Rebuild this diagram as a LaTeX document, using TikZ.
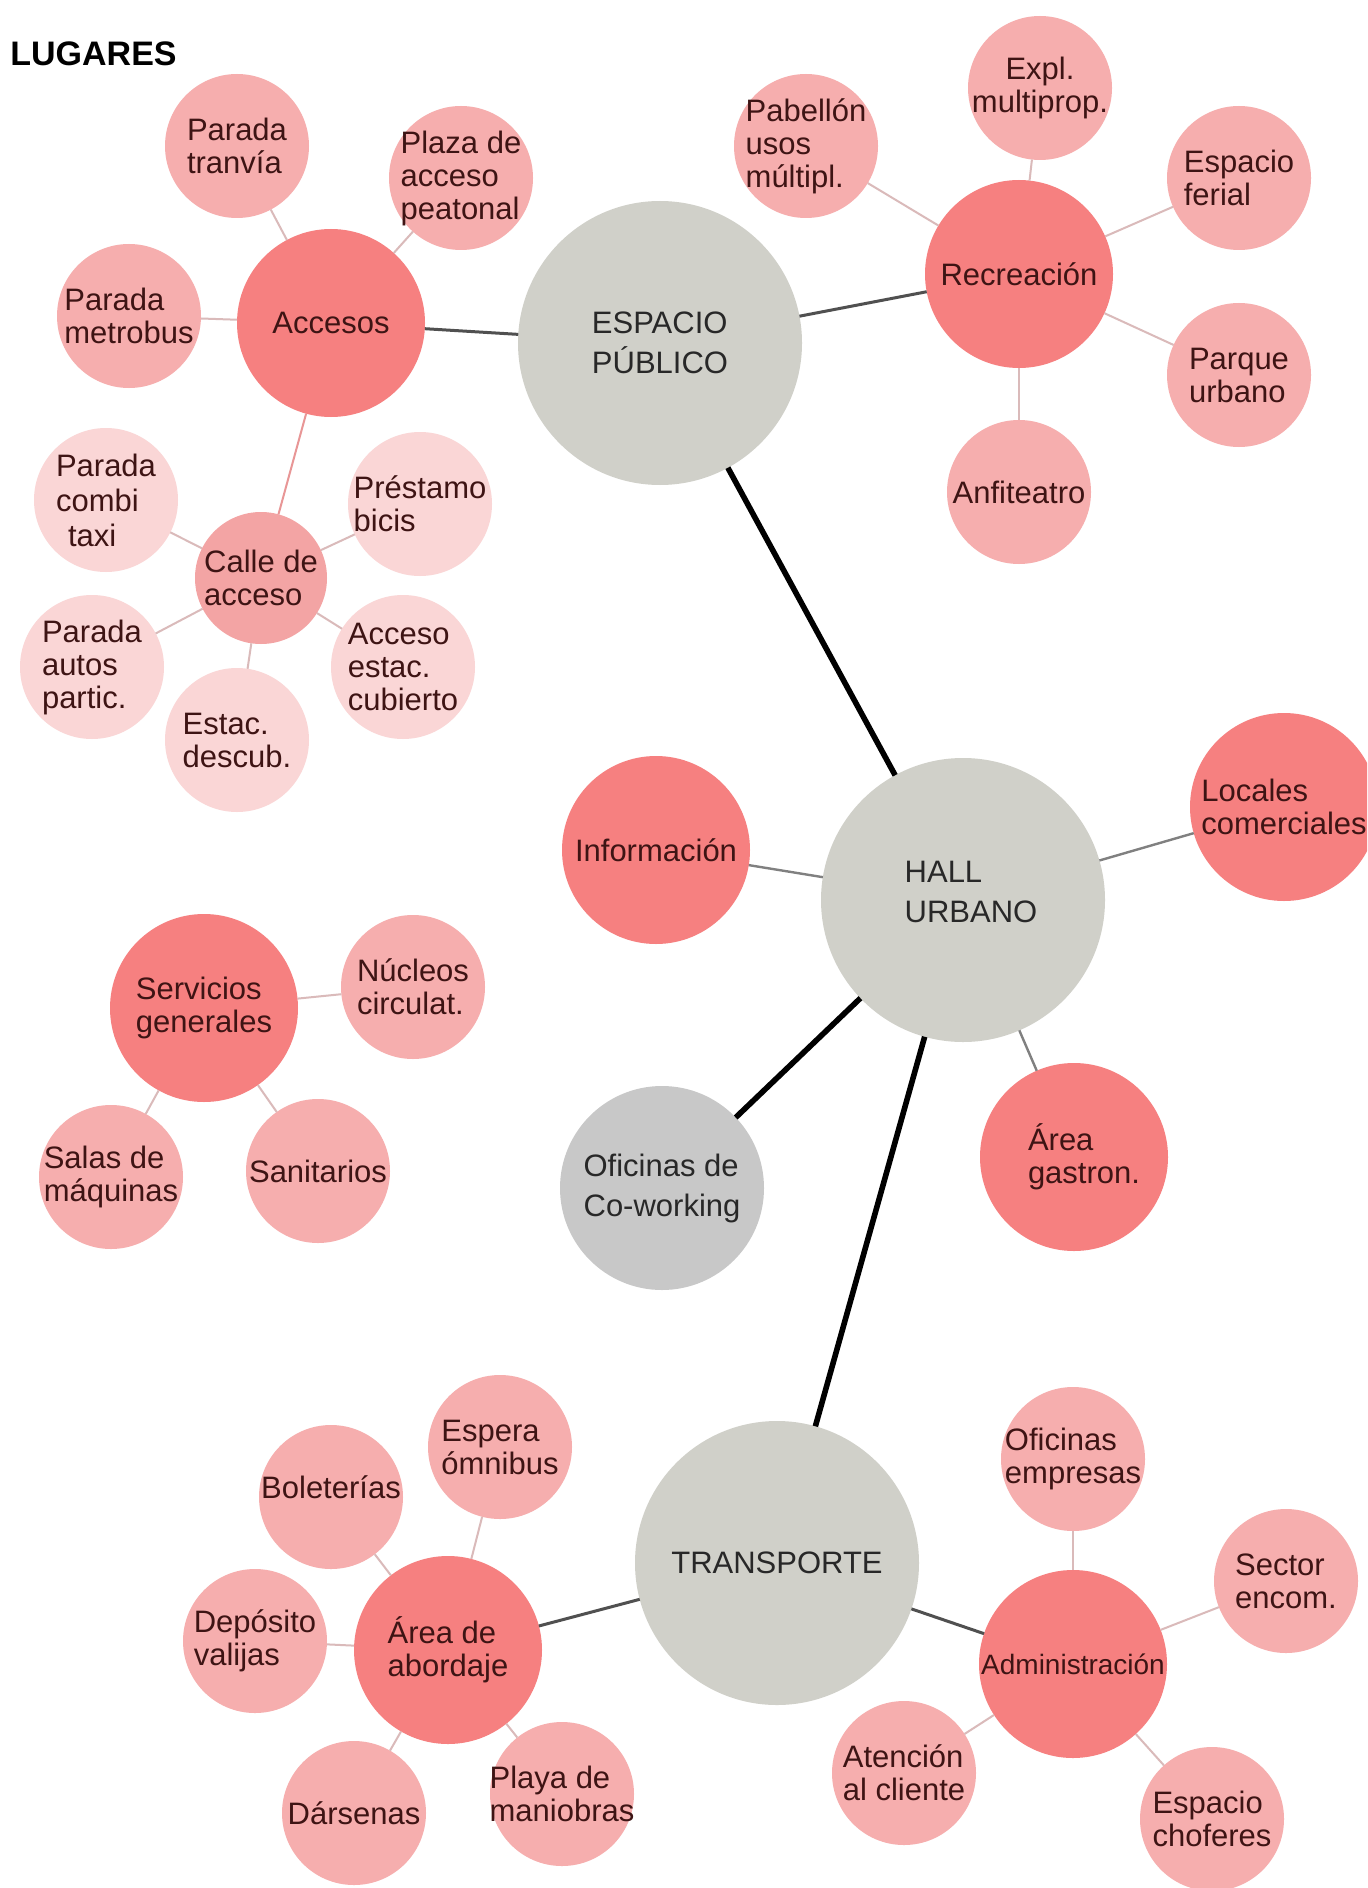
\documentclass[tikz,border=0pt]{standalone}
\usepackage{fontspec}
\setmainfont{Liberation Sans}
\definecolor{cmain}{RGB}{208,208,201}
\definecolor{ccw}{RGB}{200,200,200}
\definecolor{cstrong}{RGB}{246,128,128}
\definecolor{cleaf}{RGB}{246,174,174}
\definecolor{ccalle}{RGB}{243,164,164}
\definecolor{clight}{RGB}{250,214,214}
\definecolor{ctext}{RGB}{62,20,20}
\definecolor{ctextg}{RGB}{40,40,40}
\definecolor{cspoke}{RGB}{218,186,186}
\definecolor{cdark}{RGB}{80,80,80}
\definecolor{cmid}{RGB}{128,128,128}
\definecolor{cpink}{RGB}{232,150,150}
\begin{document}
\begin{tikzpicture}[x=0.5pt,y=-0.5pt,
  bub/.style={circle, inner sep=0pt, outer sep=0pt, draw=none},
  mainb/.style={bub, fill=cmain, minimum size=142pt},
  cwb/.style={bub, fill=ccw, minimum size=102pt},
  strong/.style={bub, fill=cstrong, minimum size=94pt},
  leaf/.style={bub, fill=cleaf, minimum size=72pt},
  calleb/.style={bub, fill=ccalle, minimum size=66pt},
  lightb/.style={bub, fill=clight, minimum size=72pt},
  lbl/.style={align=left, text=ctext, inner sep=0pt, font=\fontsize{15.5}{16.5}\selectfont},
  lblg/.style={lbl, text=ctextg, font=\fontsize{15.5}{20}\selectfont},
  t/.style={label={[lbl]center:{#1}}},
  tg/.style={label={[lblg]center:{#1}}},
  thick line/.style={line width=2.8pt, black},
  dark line/.style={line width=1.5pt, cdark},
  mid line/.style={line width=1.2pt, cmid},
  spoke/.style={line width=1pt, cspoke},
  pspoke/.style={line width=1pt, cpink}
]
\path[use as bounding box] (0,0) rectangle (1367,1888);
\clip (0,0) rectangle (1367,1888);
\fill[white] (0,0) rectangle (1367,1888);

\node[anchor=west, inner sep=0pt, font=\bfseries\fontsize{17}{17}\selectfont] (title) at (10,54) {LUGARES};

% Espacio publico cluster
\node[mainb, tg={ESPACIO\\PÚBLICO}] (esp) at (660,343) {};
\node[strong, t={Accesos}] (acc) at (331,323) {};
\node[leaf, t={Parada\\tranvía}] (ptran) at (237,146) {};
\node[leaf, t={Plaza de\\acceso\\peatonal}] (plaza) at (461,178) {};
\node[leaf, t={Parada\\metrobus}] (pmetro) at (129,316) {};
\node[calleb, t={Calle de\\acceso}] (calle) at (261,578) {};
\node[lightb, label={[lbl, font=\fontsize{15.5}{17.5}\selectfont]center:{Parada\\combi\\\hspace*{6pt}taxi}}] (pcombi) at (106,500) {};
\node[lightb, t={Préstamo\\bicis}] (prest) at (420,504) {};
\node[lightb, t={Parada\\autos\\partic.}] (pautos) at (92,667) {};
\node[lightb, t={Estac.\\descub.}] (estdes) at (237,740) {};
\node[lightb, t={Acceso\\estac.\\cubierto}] (accest) at (403,667) {};
\node[strong, t={Recreación}] (rec) at (1019,274) {};
\node[leaf, t={Pabellón\\usos\\múltipl.}] (pab) at (806,146) {};
\node[leaf, label={[lbl, align=center]center:{Expl.\\multiprop.}}] (expl) at (1040,88) {};
\node[leaf, t={Espacio\\ferial}] (ferial) at (1239,178) {};
\node[leaf, t={Parque\\urbano}] (parque) at (1239,375) {};
\node[leaf, t={Anfiteatro}] (anfi) at (1019,492) {};

% Hall urbano cluster
\node[mainb, label={[lblg, xshift=4pt, yshift=4pt]center:{HALL\\URBANO}}] (hall) at (963,900) {};
\node[strong, t={Información}] (info) at (656,850) {};
\node[strong, t={Locales\\comerciales}] (locales) at (1284,807) {};
\node[strong, label={[lbl, xshift=5pt]center:{Área\\gastron.}}] (gastro) at (1074,1157) {};
\node[cwb, tg={Oficinas de\\Co-working}] (cowork) at (662,1188) {};

% Servicios generales cluster
\node[strong, t={Servicios\\generales}] (serv) at (204,1008) {};
\node[leaf, t={Núcleos\\circulat.}] (nucleos) at (413,987) {};
\node[leaf, t={Salas de\\máquinas}] (salas) at (111,1177) {};
\node[leaf, t={Sanitarios}] (sanit) at (318,1171) {};

% Transporte cluster
\node[mainb, tg={TRANSPORTE}] (trans) at (777,1563) {};
\node[strong, t={Área de\\abordaje}] (abord) at (448,1650) {};
\node[leaf, label={[lbl, yshift=5pt]center:{Boleterías}}] (bolet) at (331,1497) {};
\node[leaf, t={Espera\\ómnibus}] (espera) at (500,1447) {};
\node[leaf, t={Depósito\\valijas}] (depos) at (255,1641) {};
\node[leaf, t={Dársenas}] (dars) at (354,1813) {};
\node[leaf, t={Playa de\\maniobras}] (playa) at (562,1794) {};
\node[strong, label={[lbl, font=\fontsize{14}{16}\selectfont]center:{Administración}}] (admin) at (1073,1664) {};
\node[leaf, t={Oficinas\\empresas}] (ofemp) at (1073,1459) {};
\node[leaf, t={Sector\\encom.}] (sector) at (1286,1581) {};
\node[leaf, t={Atención\\al cliente}] (atenc) at (904,1773) {};
\node[leaf, t={Espacio\\choferes}] (chof) at (1212,1819) {};

% connectors
\draw[thick line] (esp) -- (hall);
\draw[thick line] (hall) -- (cowork);
\draw[thick line] (hall) -- (trans);
\draw[dark line] (esp) -- (acc);
\draw[dark line] (esp) -- (rec);
\draw[dark line] (trans) -- (abord);
\draw[dark line] (trans) -- (admin);
\draw[mid line] (hall) -- (info);
\draw[mid line] (hall) -- (locales);
\draw[mid line] (hall) -- (gastro);
\draw[pspoke] (acc) -- (calle);
\foreach \n in {ptran,plaza,pmetro} \draw[spoke] (acc) -- (\n);
\foreach \n in {pcombi,prest,pautos,estdes,accest} \draw[spoke] (calle) -- (\n);
\foreach \n in {pab,expl,ferial,parque,anfi} \draw[spoke] (rec) -- (\n);
\foreach \n in {nucleos,salas,sanit} \draw[spoke] (serv) -- (\n);
\foreach \n in {bolet,espera,depos,dars,playa} \draw[spoke] (abord) -- (\n);
\foreach \n in {ofemp,sector,atenc,chof} \draw[spoke] (admin) -- (\n);
\end{tikzpicture}
\end{document}
